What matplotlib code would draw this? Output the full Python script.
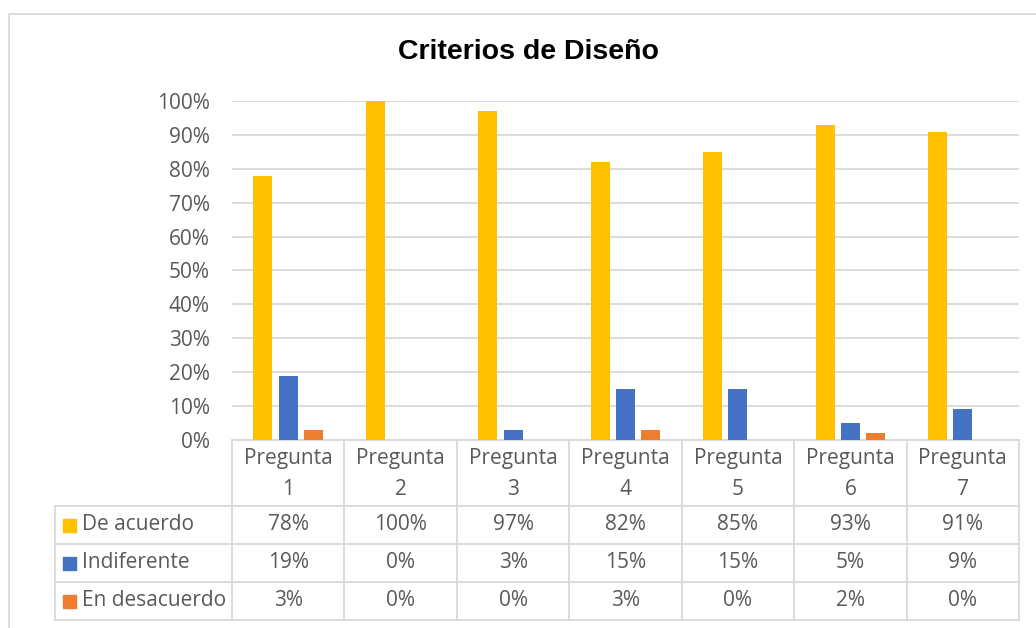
import numpy as np
import matplotlib.pyplot as plt
from matplotlib.patches import Rectangle

preguntas = ["Pregunta\n1", "Pregunta\n2", "Pregunta\n3", "Pregunta\n4",
             "Pregunta\n5", "Pregunta\n6", "Pregunta\n7"]
series = ["De acuerdo", "Indiferente", "En desacuerdo"]
de_acuerdo = [78, 100, 97, 82, 85, 93, 91]
indiferente = [19, 0, 3, 15, 15, 5, 9]
en_desacuerdo = [3, 0, 0, 3, 0, 2, 0]
colores = ["#FFC000", "#4472C4", "#ED7D31"]
valores = [de_acuerdo, indiferente, en_desacuerdo]

W, H = 1036, 628
fig = plt.figure(figsize=(W / 100, H / 100), dpi=100)
txt = "#595959"
grid = "#D9D9D9"
fuente = "Open Sans"
fs = 15

# zona de barras (pixeles -> fraccion de figura)
x0, x1, ytop, ybot = 232, 1019, 101, 440
ax = fig.add_axes([x0 / W, 1 - ybot / H, (x1 - x0) / W, (ybot - ytop) / H])
n = len(preguntas)
x = np.arange(n)
ancho = 0.17
paso = 0.225
for i, (vals, c) in enumerate(zip(valores, colores)):
    ax.bar(x + (i - 1) * paso, np.array(vals) / 100, width=ancho, color=c, zorder=3)
ax.set_xlim(-0.5, n - 0.5)
ax.set_ylim(0, 1)
ax.set_yticks(np.arange(0, 1.01, 0.1))
ax.set_yticklabels([f"{int(round(v * 100))}%" for v in np.arange(0, 1.01, 0.1)],
                   fontsize=fs, color=txt, family=fuente)
ax.tick_params(axis="y", length=0, pad=16)
ax.set_xticks([])
ax.grid(axis="y", color=grid, lw=1.3, zorder=0)
for s in ax.spines.values():
    s.set_visible(False)
ax.set_facecolor("none")

# capa en pixeles para la tabla, el titulo y el borde
ov = fig.add_axes([0, 0, 1, 1], zorder=-1)
ov.set_xlim(0, W)
ov.set_ylim(H, 0)
ov.axis("off")

ov.plot([9, 9, W], [H, 14, 14], color=grid, lw=1.3)
ov.text(529, 52, "Criterios de Diseño", ha="center", va="center",
        fontsize=20.5, fontweight="bold", family="Liberation Sans", color="black")

col = x0 + (x1 - x0) / n * np.arange(n + 1)
filas = [440, 506, 544, 582, 620]
izq = 55
lw = 1.3
# lineas horizontales
ov.plot([x0, x1], [filas[0], filas[0]], color=grid, lw=lw)
for y in filas[1:]:
    ov.plot([izq, x1], [y, y], color=grid, lw=lw)
# lineas verticales
for cx in col:
    ov.plot([cx, cx], [filas[0], filas[-1]], color=grid, lw=lw)
ov.plot([izq, izq], [filas[1], filas[-1]], color=grid, lw=lw)

for j, p in enumerate(preguntas):
    cx = (col[j] + col[j + 1]) / 2
    ov.text(cx, (filas[0] + filas[1]) / 2 + 1, p, ha="center", va="center",
            fontsize=fs, color=txt, family=fuente, linespacing=1.6)
    for i, vals in enumerate(valores):
        cy = (filas[i + 1] + filas[i + 2]) / 2
        ov.text(cx, cy, f"{vals[j]}%", ha="center", va="center",
                fontsize=fs, color=txt, family=fuente)

for i, (s, c) in enumerate(zip(series, colores)):
    cy = (filas[i + 1] + filas[i + 2]) / 2
    ov.add_patch(Rectangle((63, cy - 6), 13, 13, color=c))
    ov.text(82, cy, s, ha="left", va="center", fontsize=fs, color=txt, family=fuente)

fig.savefig("out.png", dpi=100)
